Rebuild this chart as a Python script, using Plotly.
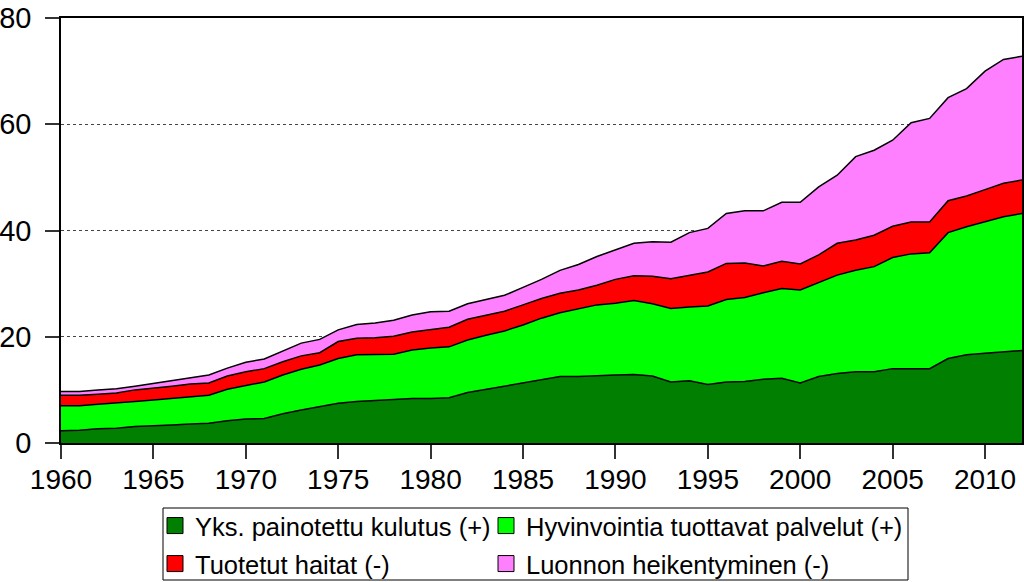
import plotly.graph_objects as go

years = list(range(1960, 2013))

names = [
    "Yks. painotettu kulutus (+)",
    "Hyvinvointia tuottavat palvelut (+)",
    "Tuotetut haitat (-)",
    "Luonnon heikentyminen (-)",
]
colors = ["#007F00", "#00FF00", "#FF0000", "#FF80FF"]

kulutus = [2.3, 2.4, 2.7, 2.8, 3.1, 3.2, 3.4, 3.6, 3.7, 4.2,
           4.5, 4.6, 5.5, 6.2, 6.8, 7.5, 7.8, 8.0, 8.1, 8.4,
           8.4, 8.5, 9.5, 10.1, 10.6, 11.2, 11.9, 12.5, 12.5, 12.7,
           12.8, 12.9, 12.6, 11.5, 11.7, 11.0, 11.5, 11.6, 12.0, 12.2,
           11.3, 12.5, 13.1, 13.4, 13.4, 14.0, 14.0, 14.0, 15.9, 16.6,
           16.9, 17.2, 17.4]

palvelut = [4.7, 4.6, 4.6, 4.7, 4.7, 4.9, 5.0, 5.1, 5.3, 5.9,
            6.3, 6.9, 7.3, 7.7, 7.9, 8.4, 8.8, 8.6, 8.6, 9.1,
            9.5, 9.6, 9.9, 10.2, 10.5, 11.0, 11.6, 12.0, 12.7, 13.3,
            13.5, 13.9, 13.6, 13.8, 13.9, 14.8, 15.5, 15.8, 16.3, 16.9,
            17.5, 17.7, 18.5, 19.1, 19.8, 20.9, 21.6, 21.8, 23.7, 24.1,
            24.7, 25.4, 25.8]

haitat = [2.0, 2.0, 1.9, 1.9, 2.2, 2.2, 2.3, 2.4, 2.3, 2.5,
          2.6, 2.5, 2.5, 2.5, 2.3, 3.2, 3.1, 3.2, 3.4, 3.4,
          3.5, 3.7, 3.9, 3.8, 3.7, 3.8, 3.7, 3.7, 3.6, 3.7,
          4.5, 4.7, 5.2, 5.6, 6.0, 6.4, 6.8, 6.5, 5.0, 5.1,
          4.9, 5.2, 6.0, 5.7, 5.9, 5.9, 6.0, 5.8, 6.0, 5.8,
          6.1, 6.3, 6.3]

luonto = [0.7, 0.7, 0.8, 0.8, 0.7, 0.9, 1.0, 1.1, 1.5, 1.5,
          1.8, 1.8, 2.0, 2.4, 2.5, 2.2, 2.6, 2.8, 3.0, 3.2,
          3.3, 3.0, 2.9, 2.9, 3.0, 3.3, 3.6, 4.3, 4.8, 5.4,
          5.6, 6.1, 6.5, 6.9, 8.0, 8.2, 9.4, 9.8, 10.4, 11.1,
          11.6, 12.8, 12.8, 15.7, 16.0, 16.2, 18.7, 19.5, 19.4, 20.2,
          22.3, 23.3, 23.3]

series = [kulutus, palvelut, haitat, luonto]

x_ticks = list(range(1960, 2011, 5))
y_ticks = [0, 20, 40, 60, 80]

FONT = "Arial, Liberation Sans, sans-serif"

W, H = 1024, 582
ML, MR, MT, MB = 61, 2, 18, 139
PW, PH = W - ML - MR, H - MT - MB


def px_x(px):
    return (px - ML) / PW


def px_y(py):
    return (H - MB - py) / PH


fig = go.Figure()
for name, col, vals in zip(names, colors, series):
    fig.add_trace(go.Scatter(
        x=years, y=vals, stackgroup="one", mode="lines",
        fillcolor=col, line=dict(color="black", width=1.5),
        name=name, showlegend=False, hoverinfo="skip",
    ))

# one legend per entry so each can be placed like the original 2x2 grid
legend_ids = ["legend", "legend2", "legend3", "legend4"]
legend_pos = [(155, 526), (486, 526), (155, 564), (486, 564)]
for name, col, lid in zip(names, colors, legend_ids):
    fig.add_trace(go.Scatter(
        x=[None], y=[None], mode="markers", name=name, legend=lid,
        marker=dict(symbol="square", size=16, color=col,
                    line=dict(color="black", width=1)),
    ))

layout_legends = {}
for lid, (lx, ly) in zip(legend_ids, legend_pos):
    layout_legends[lid] = dict(
        orientation="h", x=px_x(lx), xanchor="left",
        y=px_y(ly), yanchor="middle",
        font=dict(size=25.5, family=FONT, color="black"),
        borderwidth=0, bgcolor="rgba(0,0,0,0)", itemwidth=30,
    )

fig.update_layout(
    width=W, height=H,
    margin=dict(l=ML, r=MR, t=MT, b=MB, autoexpand=False),
    paper_bgcolor="white", plot_bgcolor="white",
    font=dict(family=FONT, color="black"),
    shapes=[dict(
        type="rect", xref="paper", yref="paper",
        x0=px_x(163), x1=px_x(908), y0=px_y(580), y1=px_y(508),
        line=dict(color="black", width=1), fillcolor="rgba(0,0,0,0)",
    )],
    **layout_legends,
)
fig.update_xaxes(
    range=[1960, 2012], tickvals=x_ticks, ticktext=[str(v) for v in x_ticks],
    showgrid=False, zeroline=False,
    showline=True, mirror=True, linecolor="black", linewidth=1.5,
    ticks="outside", ticklen=14, tickwidth=1.5, tickcolor="#333",
    tickfont=dict(size=28, family=FONT, color="black"),
    ticklabelstandoff=-3,
)
fig.update_yaxes(
    range=[0, 80], tickvals=y_ticks, ticktext=[str(v) for v in y_ticks],
    showgrid=True, gridcolor="#444", gridwidth=1, griddash="dot",
    zeroline=False,
    showline=True, mirror=True, linecolor="black", linewidth=1.5,
    ticks="outside", ticklen=14, tickwidth=1.5, tickcolor="#333",
    tickfont=dict(size=29, family=FONT, color="black"),
    ticklabelstandoff=8,
)

fig.write_html(
    "out.html",
    config={"displayModeBar": False},
    post_script="document.body.style.margin='0';document.body.style.overflow='hidden';",
)
